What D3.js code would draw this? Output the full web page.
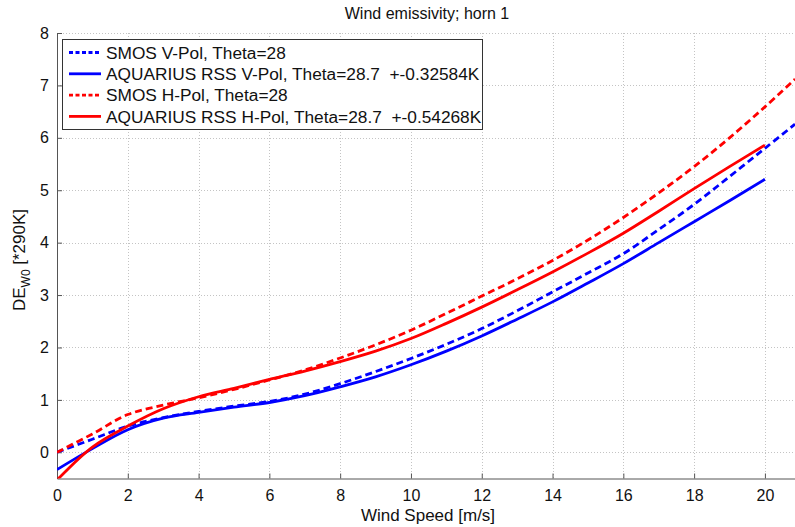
<!doctype html>
<html>
<head>
<meta charset="utf-8">
<script src="https://d3js.org/d3.v7.min.js"></script>
<style>
  body { margin: 0; background: #fff; }
  text { font-family: "Liberation Sans", Arial, sans-serif; fill: #111; }
</style>
</head>
<body>
<svg width="795" height="527"></svg>
<script>
// wind speed grid [m/s]
var speedAq = [0, 1, 2, 3, 4, 5, 6, 7, 8, 9, 10, 11, 12, 13, 14, 15, 16, 17, 18, 19, 20];
var speedSmos = speedAq.concat([20.85]);

// DE_W0 [*290K]
var smosV = [0, 0.25, 0.5, 0.66, 0.78, 0.88, 0.97, 1.11, 1.31, 1.54, 1.79, 2.06, 2.36, 2.7, 3.06, 3.42, 3.79, 4.25, 4.73, 5.26, 5.8, 6.26];
var aqV   = [-0.33, 0.07, 0.43, 0.65, 0.76, 0.86, 0.95, 1.08, 1.25, 1.44, 1.67, 1.93, 2.22, 2.54, 2.87, 3.23, 3.6, 4.0, 4.4, 4.8, 5.21];
var smosH = [0, 0.35, 0.72, 0.9, 1.04, 1.2, 1.38, 1.57, 1.8, 2.05, 2.33, 2.65, 2.98, 3.31, 3.66, 4.05, 4.48, 4.95, 5.45, 6.0, 6.59, 7.12];
var aqH   = [-0.53, 0.1, 0.5, 0.83, 1.06, 1.22, 1.39, 1.55, 1.73, 1.93, 2.17, 2.46, 2.77, 3.1, 3.44, 3.8, 4.18, 4.6, 5.03, 5.45, 5.86];

var xTicks = [0, 2, 4, 6, 8, 10, 12, 14, 16, 18, 20];
var yTicks = [0, 1, 2, 3, 4, 5, 6, 7, 8];

var series = [
  {name: "SMOS V-Pol, Theta=28", x: speedSmos, y: smosV, color: "#0000ff", dash: "7,4"},
  {name: "AQUARIUS RSS V-Pol, Theta=28.7  +-0.32584K", x: speedAq, y: aqV, color: "#0000ff", dash: null},
  {name: "SMOS H-Pol, Theta=28", x: speedSmos, y: smosH, color: "#ff0000", dash: "7,4"},
  {name: "AQUARIUS RSS H-Pol, Theta=28.7  +-0.54268K", x: speedAq, y: aqH, color: "#ff0000", dash: null}
];

var svg = d3.select("svg");
var pLeft = 57, pRight = 795, pTop = 33, pBottom = 478.5;

var x = d3.scaleLinear().domain([0, 20.85]).range([pLeft, pRight]);
var y = d3.scaleLinear().domain([-0.5, 8]).range([pBottom, pTop]);

// grid
var grid = svg.append("g").attr("stroke", "#c4c4c4").attr("stroke-dasharray", "1,2").attr("stroke-width", 1);
grid.selectAll(".gx").data(xTicks.filter(d => d > 0)).enter().append("line")
  .attr("x1", d => Math.round(x(d)) + 0.5).attr("x2", d => Math.round(x(d)) + 0.5)
  .attr("y1", pTop).attr("y2", pBottom);
grid.selectAll(".gy").data(yTicks).enter().append("line")
  .attr("x1", pLeft).attr("x2", pRight)
  .attr("y1", d => Math.round(y(d)) + 0.5).attr("y2", d => Math.round(y(d)) + 0.5);

// axes (MATLAB style, ticks inside)
var xAxis = svg.append("g").attr("transform", "translate(0," + pBottom + ")")
  .call(d3.axisBottom(x).tickValues(xTicks).tickSizeInner(-5).tickSizeOuter(0).tickPadding(9));
var yAxis = svg.append("g").attr("transform", "translate(" + pLeft + ",0)")
  .call(d3.axisLeft(y).tickValues(yTicks).tickSizeInner(-5).tickSizeOuter(0).tickPadding(8));
[xAxis, yAxis].forEach(function(a) {
  a.select(".domain").attr("stroke", "#555");
  a.selectAll(".tick line").attr("stroke", "#555");
  a.selectAll(".tick text").style("font-family", "Liberation Sans, Arial, sans-serif")
    .style("font-size", "16px").attr("fill", "#111");
});
xAxis.selectAll(".tick text").attr("dy", "0.85em");

// curves
svg.append("clipPath").attr("id", "plot").append("rect")
  .attr("x", pLeft).attr("y", pTop).attr("width", pRight - pLeft).attr("height", pBottom - pTop);

var line = d3.line().curve(d3.curveCatmullRom.alpha(0.5));
svg.append("g").attr("clip-path", "url(#plot)")
  .selectAll("path").data(series).enter().append("path")
  .attr("d", s => line(s.x.map((v, i) => [x(v), y(s.y[i])])))
  .attr("fill", "none")
  .attr("stroke", s => s.color)
  .attr("stroke-width", 2.8)
  .attr("stroke-dasharray", s => s.dash);

// legend
var lg = svg.append("g");
lg.append("rect").attr("x", 62.5).attr("y", 39.5).attr("width", 420).attr("height", 90)
  .attr("fill", "#fff").attr("stroke", "#333").attr("stroke-width", 1);
var rows = lg.selectAll(".row").data(series).enter().append("g")
  .attr("transform", (d, i) => "translate(0," + (52.5 + i * 21.3) + ")");
rows.append("line").attr("x1", 69).attr("x2", 101).attr("y1", 0).attr("y2", 0)
  .attr("stroke", d => d.color).attr("stroke-width", 2.8).attr("stroke-dasharray", d => d.dash ? "4,2.5" : null);
rows.append("text").attr("x", 106).attr("y", 0).attr("dy", "0.36em")
  .style("font-size", "17.3px").style("white-space", "pre").text(d => d.name);

// title and labels
svg.append("text").attr("x", 427).attr("y", 19).attr("text-anchor", "middle")
  .style("font-size", "16px").text("Wind emissivity; horn 1");
svg.append("text").attr("x", 428).attr("y", 521).attr("text-anchor", "middle")
  .style("font-size", "17px").text("Wind Speed [m/s]");
var yl = svg.append("text").attr("transform", "translate(25,260) rotate(-90)")
  .attr("text-anchor", "middle").style("font-size", "17px");
yl.append("tspan").text("DE");
yl.append("tspan").attr("dy", 5).style("font-size", "12px").text("W0");
yl.append("tspan").attr("dy", -5).text(" [*290K]");
</script>
</body>
</html>
